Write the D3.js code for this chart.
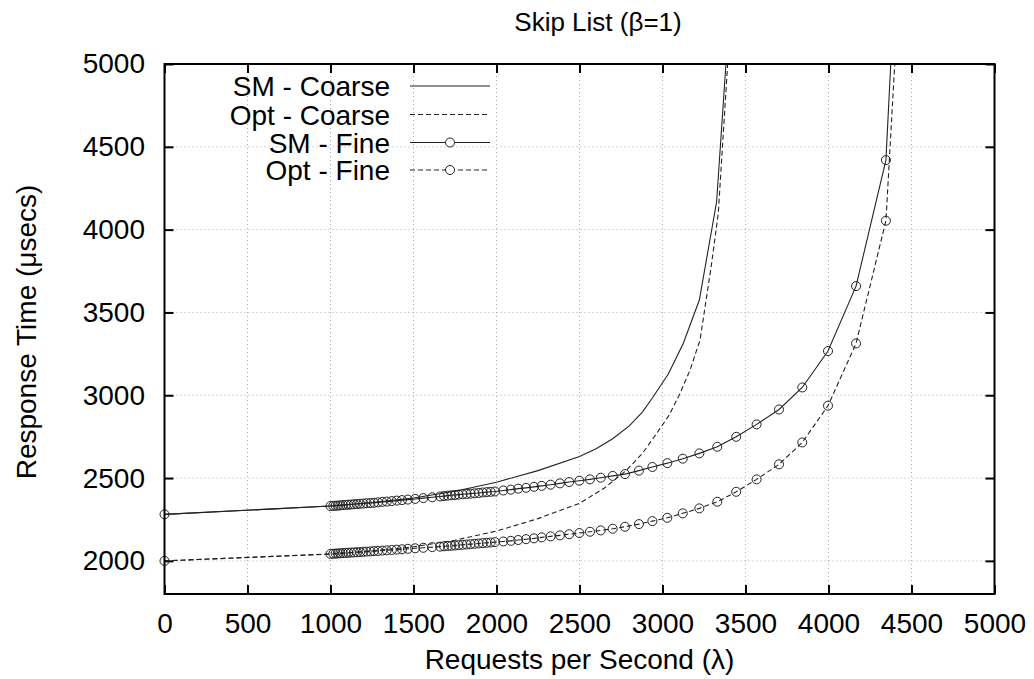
<!DOCTYPE html>
<html lang="en">
<head>
<meta charset="UTF-8"/>
<title>Skip List (beta=1)</title>
<script src="https://cdn.jsdelivr.net/npm/d3@7/dist/d3.min.js"></script>
<style>
body { margin: 0; background: #fff; }
text { font-family: "Liberation Sans", Arial, Helvetica, sans-serif; fill: #000; }
.grid line { stroke: #aaa; stroke-width: 1; stroke-dasharray: 1,3; }
.frame { fill: none; stroke: #000; stroke-width: 2; }
.series { fill: none; stroke: #222; stroke-width: 1.1; }
.dashed { stroke-dasharray: 5,3; }
.mark { fill: none; stroke: #222; stroke-width: 1; }
</style>
</head>
<body>
<svg id="chart"></svg>
<script>
// ---- data ----
var xTicks = [0, 500, 1000, 1500, 2000, 2500, 3000, 3500, 4000, 4500, 5000];
var yTicks = [2000, 2500, 3000, 3500, 4000, 4500, 5000];

// coarse-grained model, lines only
var smCoarseX  = [0, 1000, 1250, 1500, 1750, 2000, 2250, 2500, 2600, 2700, 2800, 2880, 2940, 3035, 3125, 3222, 3326, 3420];
var smCoarseY  = [2281, 2331, 2352, 2380, 2420, 2475, 2545, 2630, 2677, 2737, 2815, 2900, 2985, 3128, 3313, 3575, 4168, 5560];
var optCoarseX = [0, 1000, 1250, 1500, 1750, 2000, 2250, 2500, 2650, 2784, 2880, 2965, 3040, 3105, 3165, 3226, 3296, 3336, 3430];
var optCoarseY = [2000, 2041, 2060, 2085, 2125, 2180, 2255, 2347, 2440, 2548, 2650, 2770, 2880, 3010, 3150, 3333, 3796, 4098, 5600];

// fine-grained model, lines with circle points (shared x)
var fineX = [0, 1000, 1017, 1031, 1045, 1059, 1075, 1092, 1107, 1123, 1142, 1160, 1178, 1198, 1218, 1240, 1262, 1286, 1312,
  1339, 1369, 1399, 1431, 1466, 1510, 1559, 1613, 1660, 1684, 1706, 1728, 1750, 1772, 1796, 1820, 1844, 1868, 1893, 1917,
  1941, 1965, 1991, 2041, 2086, 2131, 2178, 2226, 2272, 2326, 2382, 2438, 2499, 2563, 2628, 2700, 2774, 2858, 2939, 3029,
  3122, 3222, 3330, 3444, 3567, 3702, 3842, 3997, 4166, 4346, 4420];
var smFineY = [2281, 2331, 2332, 2333, 2334, 2335, 2337, 2338, 2339, 2340, 2342, 2343, 2345, 2346, 2348, 2349, 2351, 2353, 2356,
  2358, 2361, 2364, 2367, 2370, 2374, 2379, 2384, 2389, 2391, 2394, 2396, 2398, 2400, 2402, 2404, 2406, 2408, 2410, 2413,
  2415, 2417, 2419, 2425, 2430, 2436, 2441, 2447, 2453, 2460, 2468, 2476, 2484, 2492, 2502, 2513, 2524, 2545, 2567, 2590,
  2617, 2649, 2689, 2749, 2824, 2914, 3047, 3267, 3659, 4420, 5900];
var optFineY = [2000, 2042, 2043, 2044, 2045, 2046, 2047, 2048, 2049, 2050, 2051, 2052, 2053, 2055, 2056, 2057, 2059, 2060, 2062,
  2064, 2066, 2068, 2070, 2073, 2076, 2079, 2083, 2086, 2088, 2090, 2091, 2093, 2095, 2097, 2099, 2101, 2103, 2105, 2107,
  2109, 2111, 2113, 2117, 2121, 2126, 2131, 2136, 2142, 2148, 2154, 2161, 2168, 2176, 2184, 2194, 2206, 2222, 2240, 2260,
  2287, 2317, 2357, 2417, 2492, 2583, 2715, 2937, 3313, 4054, 5375];

var seriesNames = ["SM - Coarse", "Opt - Coarse", "SM - Fine", "Opt - Fine"];

// ---- layout ----  (plotL/plotT etc: "top" is taken by window.top)
var W = 1034, H = 679;
var plotL = 164.5, plotT = 64, plotR = 994.5, plotB = 594;

var svg = d3.select("#chart").attr("width", W).attr("height", H);

var x = d3.scaleLinear().domain([0, 5000]).range([plotL, plotR]);
var y = d3.scaleLinear().domain([1800, 5000]).range([plotB, plotT]);

svg.append("defs").append("clipPath").attr("id", "plotclip")
  .append("rect").attr("x", plotL).attr("y", plotT)
  .attr("width", plotR - plotL).attr("height", plotB - plotT);

// grid
var grid = svg.append("g").attr("class", "grid");
grid.selectAll("line.gx").data(xTicks.slice(1, -1)).enter().append("line")
  .attr("x1", d => x(d)).attr("x2", d => x(d)).attr("y1", plotT).attr("y2", plotB);
grid.selectAll("line.gy").data(yTicks.slice(0, -1)).enter().append("line")
  .attr("x1", plotL).attr("x2", plotR).attr("y1", d => y(d)).attr("y2", d => y(d));

// axes, ticks pointing inwards on all four sides
function styleAxis(g) {
  g.select(".domain").remove();
  g.selectAll(".tick line").attr("stroke", "#000").attr("stroke-width", 2);
  g.selectAll(".tick text").style("font-size", "28px").attr("fill", "#000");
}
svg.append("g").attr("transform", "translate(0," + plotB + ")")
  .call(d3.axisBottom(x).tickValues(xTicks).tickSize(-9).tickPadding(19).tickFormat(d3.format("d")))
  .call(styleAxis);
svg.append("g").attr("transform", "translate(0," + plotT + ")")
  .call(d3.axisTop(x).tickValues(xTicks).tickSize(-9).tickFormat(""))
  .call(styleAxis);
svg.append("g").attr("transform", "translate(" + plotL + ",0)")
  .call(d3.axisLeft(y).tickValues(yTicks).tickSize(-9).tickPadding(19.5).tickFormat(d3.format("d")))
  .call(styleAxis);
svg.append("g").attr("transform", "translate(" + plotR + ",0)")
  .call(d3.axisRight(y).tickValues(yTicks).tickSize(-9).tickFormat(""))
  .call(styleAxis);

// series
function pairs(xs, ys) { return xs.map((v, i) => [v, ys[i]]); }
var line = d3.line().x(d => x(d[0])).y(d => y(d[1]));

var plot = svg.append("g").attr("clip-path", "url(#plotclip)");
plot.append("path").datum(pairs(smCoarseX, smCoarseY)).attr("class", "series").attr("d", line);
plot.append("path").datum(pairs(optCoarseX, optCoarseY)).attr("class", "series dashed").attr("d", line);
plot.append("path").datum(pairs(fineX, smFineY)).attr("class", "series").attr("d", line);
plot.append("path").datum(pairs(fineX, optFineY)).attr("class", "series dashed").attr("d", line);

function inRange(d) { return d[1] >= 1800 && d[1] <= 5000; }
svg.append("g").selectAll("circle.sm").data(pairs(fineX, smFineY).filter(inRange)).enter()
  .append("circle").attr("class", "mark").attr("r", 4.5)
  .attr("cx", d => x(d[0])).attr("cy", d => y(d[1]));
svg.append("g").selectAll("circle.opt").data(pairs(fineX, optFineY).filter(inRange)).enter()
  .append("circle").attr("class", "mark").attr("r", 4.5)
  .attr("cx", d => x(d[0])).attr("cy", d => y(d[1]));

// frame
svg.append("rect").attr("class", "frame")
  .attr("x", plotL).attr("y", plotT).attr("width", plotR - plotL).attr("height", plotB - plotT);

// legend
var legend = svg.append("g");
var rowY = [86, 114.5, 142.5, 170];
seriesNames.forEach(function(name, i) {
  legend.append("text").attr("x", 390).attr("y", rowY[i] + 10)
    .attr("text-anchor", "end").style("font-size", "28px").text(name);
  legend.append("line").attr("x1", 410).attr("x2", 490).attr("y1", rowY[i]).attr("y2", rowY[i])
    .attr("class", "series" + (i % 2 ? " dashed" : ""));
  if (i >= 2) {
    legend.append("circle").attr("class", "mark").attr("r", 4.5)
      .attr("cx", 450).attr("cy", rowY[i]).style("fill", "#fff");
  }
});

// titles
svg.append("text").attr("x", 598).attr("y", 31).attr("text-anchor", "middle")
  .style("font-size", "26px").text("Skip List (\u03b2=1)");
svg.append("text").attr("x", 579.5).attr("y", 669).attr("text-anchor", "middle")
  .style("font-size", "28px").text("Requests per Second (\u03bb)");
svg.append("text").attr("transform", "translate(36,332) rotate(-90)").attr("text-anchor", "middle")
  .style("font-size", "28px").text("Response Time (\u03bcsecs)");
</script>
</body>
</html>
